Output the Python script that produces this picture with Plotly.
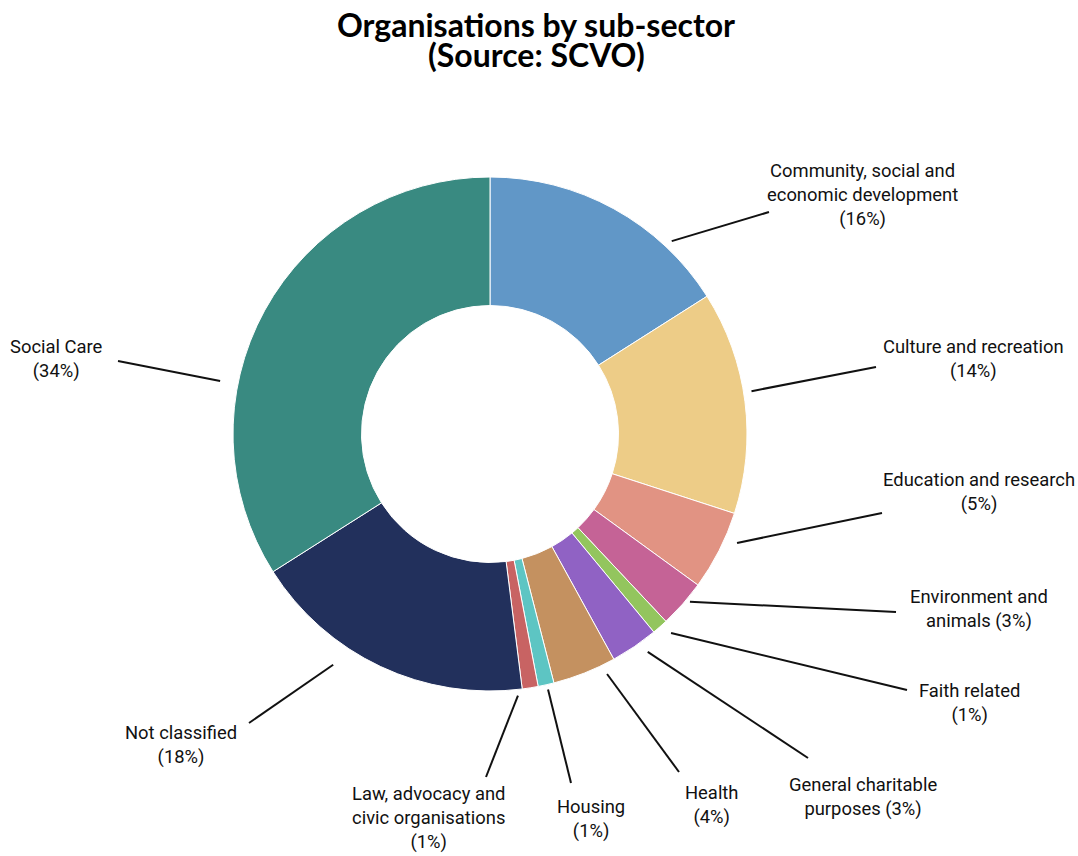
import math
import plotly.graph_objects as go

# ---- data ----
labels = [
    "Community, social and economic development",
    "Culture and recreation",
    "Education and research",
    "Environment and animals",
    "Faith related",
    "General charitable purposes",
    "Health",
    "Housing",
    "Law, advocacy and civic organisations",
    "Not classified",
    "Social Care",
]
values = [16, 14, 5, 3, 1, 3, 4, 1, 1, 18, 34]
colors = ["#6197c7", "#edcc87", "#e19383", "#c56396", "#93c55e", "#9062c4",
          "#c49160", "#5dc5c3", "#c86363", "#22305c", "#398a81"]
label_texts = [
    "Community, social and<br>economic development<br>(16%)",
    "Culture and recreation<br>(14%)",
    "Education and research<br>(5%)",
    "Environment and<br>animals (3%)",
    "Faith related<br>(1%)",
    "General charitable<br>purposes (3%)",
    "Health<br>(4%)",
    "Housing<br>(1%)",
    "Law, advocacy and<br>civic organisations<br>(1%)",
    "Not classified<br>(18%)",
    "Social Care<br>(34%)",
]

# ---- layout constants (pixels) ----
W, H = 1078, 856
ML, MR, MT, MB = 233, 331, 177, 165
PW = W - ML - MR
PH = H - MT - MB
CX, CY = ML + PW / 2, MT + PH / 2

# leader line start (angle clockwise from top, radius px) and end (px), label centre (px)
lead_start_ang = [43.3, 80.7, 113.8, 130.0, 137.7, 144.1, 154.0, 167.2, 173.9, 214.2, 281.1]
lead_start_rad = [265, 265, 270, 261, 269, 269, 267, 262, 263, 279, 275]
lead_end = [(769, 212), (876, 367), (882, 513), (896, 612), (907, 690), (808, 758),
            (679, 772), (571, 783), (486, 777), (249, 723), (118, 361)]
label_pos = [(862, 195), (973, 359), (979, 492), (979, 609), (969, 703), (863, 797),
             (712, 805), (591, 819), (428, 818), (181, 745), (56, 359)]


def px2paper(px, py):
    return (px - ML) / PW, (MT + PH - py) / PH


fig = go.Figure(go.Pie(
    labels=labels,
    values=values,
    marker=dict(colors=colors, line=dict(color="white", width=1)),
    hole=0.5,
    sort=False,
    direction="clockwise",
    rotation=0,
    textinfo="none",
    hoverinfo="label+percent",
    showlegend=False,
))

font_lbl = "Roboto, Liberation Sans, sans-serif"
shapes = []
annotations = []
for i, txt in enumerate(label_texts):
    a = math.radians(lead_start_ang[i])
    sx = CX + lead_start_rad[i] * math.sin(a)
    sy = CY - lead_start_rad[i] * math.cos(a)
    x0, y0 = px2paper(sx, sy)
    x1, y1 = px2paper(*lead_end[i])
    shapes.append(dict(type="line", xref="paper", yref="paper", x0=x0, y0=y0, x1=x1, y1=y1,
                       line=dict(color="#111111", width=2)))
    lx, ly = px2paper(*label_pos[i])
    annotations.append(dict(text=txt, x=lx, y=ly, xref="paper", yref="paper",
                            xanchor="center", yanchor="middle", align="center", showarrow=False,
                            font=dict(family=font_lbl, size=18.4, color="#111111")))

title_font = dict(family="Lato, DejaVu Sans, sans-serif", size=32, color="#000000", weight="bold")
annotations.append(dict(text="(Source: SCVO)", xref="paper", yref="paper",
                        x=px2paper(536, 0)[0], y=px2paper(0, 54.5)[1],
                        xanchor="center", yanchor="middle", showarrow=False, font=title_font))

fig.update_layout(
    width=W, height=H,
    margin=dict(l=ML, r=MR, t=MT, b=MB, autoexpand=False),
    paper_bgcolor="white", plot_bgcolor="white",
    title=dict(text="Organisations by sub-sector",
               x=536 / W, xanchor="center", y=1 - 25.5 / H, yanchor="middle", yref="container",
               font=title_font),
    shapes=shapes,
    annotations=annotations,
)

fig.write_html("out.html", config={"displayModeBar": False},
               post_script="document.body.style.margin='0';")
